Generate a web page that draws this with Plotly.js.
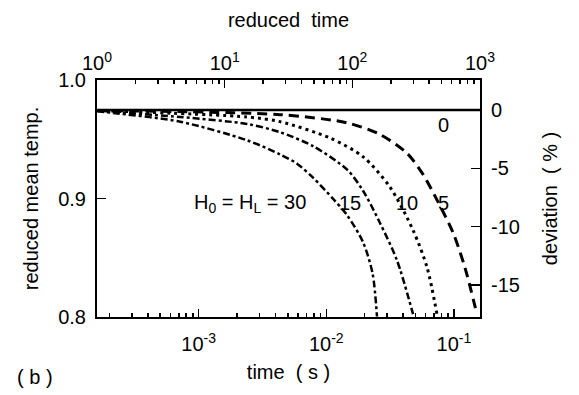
<!DOCTYPE html>
<html>
<head>
<meta charset="utf-8">
<script src="https://cdn.plot.ly/plotly-3.0.1.min.js"></script>
<style>html,body{margin:0;padding:0;background:#fff;}#chart{width:579px;height:395px;}</style>
</head>
<body>
<div id="chart"></div>
<script>
// Curves: deviation (%) vs reduced time, for H0 = HL values
const zeroRedTime = [1, 1000];
const zeroDev = [0, 0];

const redTime5 = [1, 27.1, 90.8, 165, 268, 357, 460, 614, 762, 946];
const dev5 = [-0.05, -0.4, -1.1, -2.1, -3.7, -5.5, -7.7, -10.5, -13.5, -17.5];

const redTime10 = [1, 15, 27.1, 66.8, 121, 197, 299, 385, 460];
const dev10 = [-0.05, -0.6, -1.0, -2.4, -4.0, -6.6, -10.3, -13.5, -17.5];

const redTime15 = [1, 4.47, 15, 27.1, 49.2, 90.8, 121, 165, 224, 299];
const dev15 = [-0.05, -0.6, -1.2, -1.9, -3.1, -5.1, -6.9, -9.7, -12.9, -17.5];

const redTime30 = [1, 1.33, 4.47, 15, 27.1, 36.9, 49.2, 70.5, 90.8, 121, 144, 156];
const dev30 = [-0.1, -0.25, -1.0, -2.6, -3.8, -4.6, -5.8, -7.6, -9.0, -11.3, -14.0, -17.7];

// Axis ticks
const timeTicks = [0.001, 0.01, 0.1];
const timeTickText = ["10<sup>-3</sup>", "10<sup>-2</sup>", "10<sup>-1</sup>"];
const redTicks = [1, 10, 100, 1000];
const redTickText = ["10<sup>0</sup>", "10<sup>1</sup>", "10<sup>2</sup>", "10<sup>3</sup>"];
const tempTicks = [0.8, 0.9, 1.0];
const tempTickText = ["0.8", "0.9", "1.0"];
const devTicks = [0, -5, -10, -15];
const devTickText = ["0", "-5", "-10", "-15"];
const timeRange = [0.00016, 0.16];
const redRange = [1, 1000];
const tempRange = [0.8, 1.0];
const devRange = [-17.74, 2.57];

function minorTicks(lo, hi) {
  const out = [];
  for (let e = Math.floor(Math.log10(lo)); e <= Math.ceil(Math.log10(hi)); e++) {
    for (let k = 2; k <= 9; k++) {
      const v = k * Math.pow(10, e);
      if (v > lo && v < hi) out.push(v);
    }
  }
  return out;
}

const FONT = "Liberation Sans, Arial, Helvetica, sans-serif";
const FS = 20;

function tr(x, y, dash, width) {
  return {x: x, y: y, xaxis: 'x2', yaxis: 'y2', type: 'scatter', mode: 'lines',
    line: {color: '#000', width: width, dash: dash, shape: 'spline', smoothing: 0.8},
    showlegend: false, hoverinfo: 'skip'};
}

const data = [
  // invisible trace so that the bottom (time) and left (temperature) axes are drawn
  {x: timeRange, y: tempRange, xaxis: 'x', yaxis: 'y', type: 'scatter', mode: 'markers',
   marker: {opacity: 0, size: 1}, showlegend: false, hoverinfo: 'skip'},
  tr(zeroRedTime, zeroDev, 'solid', 2.5),
  tr(redTime5, dev5, '10px,6px', 3),
  tr(redTime10, dev10, '3px,4px', 3),
  tr(redTime15, dev15, '7px,3px,3px,3px', 2.5),
  tr(redTime30, dev30, '7px,3px,3px,3px', 2.5)
];

const axisCommon = {showline: true, linewidth: 2, linecolor: '#000', showgrid: false,
  zeroline: false, ticks: 'inside', tickcolor: '#000', tickwidth: 1.5, mirror: false,
  tickfont: {family: FONT, size: FS, color: '#000'}};

function label(text, x, y) {
  return {text: text, xref: 'paper', yref: 'paper', x: x, y: y, xanchor: 'center', yanchor: 'middle',
    showarrow: false, font: {family: FONT, size: FS, color: '#000'}};
}

const layout = {
  width: 579, height: 395,
  margin: {l: 97, r: 99, t: 80, b: 78, pad: 0},
  paper_bgcolor: '#fff', plot_bgcolor: '#fff',
  font: {family: FONT, size: FS, color: '#000'},
  showlegend: false,
  xaxis: Object.assign({}, axisCommon, {
    type: 'log', range: timeRange.map(Math.log10), anchor: 'y', side: 'bottom',
    tickmode: 'array', tickvals: timeTicks, ticktext: timeTickText, ticklen: 8,
    ticklabelstandoff: 8,
    minor: {tickmode: 'array', tickvals: minorTicks(timeRange[0], timeRange[1]), ticks: 'inside', ticklen: 4, tickcolor: '#000', tickwidth: 1.5},
    title: {text: 'time\u00a0 ( s )', font: {family: FONT, size: FS}, standoff: 11}
  }),
  xaxis2: Object.assign({}, axisCommon, {
    type: 'log', range: redRange.map(Math.log10), overlaying: 'x', anchor: 'y', side: 'top',
    tickmode: 'array', tickvals: redTicks, ticktext: redTickText, ticklen: 8,
    ticklabelstandoff: 0,
    minor: {tickmode: 'array', tickvals: minorTicks(redRange[0], redRange[1]), ticks: 'inside', ticklen: 4, tickcolor: '#000', tickwidth: 1.5},
    title: {text: 'reduced\u00a0 time', font: {family: FONT, size: FS}, standoff: 16}
  }),
  yaxis: Object.assign({}, axisCommon, {
    range: tempRange, anchor: 'x', side: 'left',
    tickmode: 'array', tickvals: tempTicks, ticktext: tempTickText, ticklen: 9,
    ticklabelstandoff: 5,
    title: {text: 'reduced mean temp.', font: {family: FONT, size: FS}, standoff: 14}
  }),
  yaxis2: Object.assign({}, axisCommon, {
    range: devRange, overlaying: 'y', anchor: 'x', side: 'right',
    tickmode: 'array', tickvals: devTicks, ticktext: devTickText, ticklen: 9,
    ticklabelstandoff: 5,
    title: {text: 'deviation\u00a0 ( % )', font: {family: FONT, size: FS}, standoff: 24}
  }),
  annotations: [
    label('H<sub>0</sub> = H<sub>L</sub> = 30', 0.40, 0.481),
    label('15', 0.661, 0.481),
    label('10', 0.809, 0.481),
    label('5', 0.906, 0.481),
    label('0', 0.906, 0.81),
    label('( b )', -0.162, -0.255)
  ]
};

Plotly.newPlot('chart', data, layout, {staticPlot: true, displayModeBar: false});
</script>
</body>
</html>
